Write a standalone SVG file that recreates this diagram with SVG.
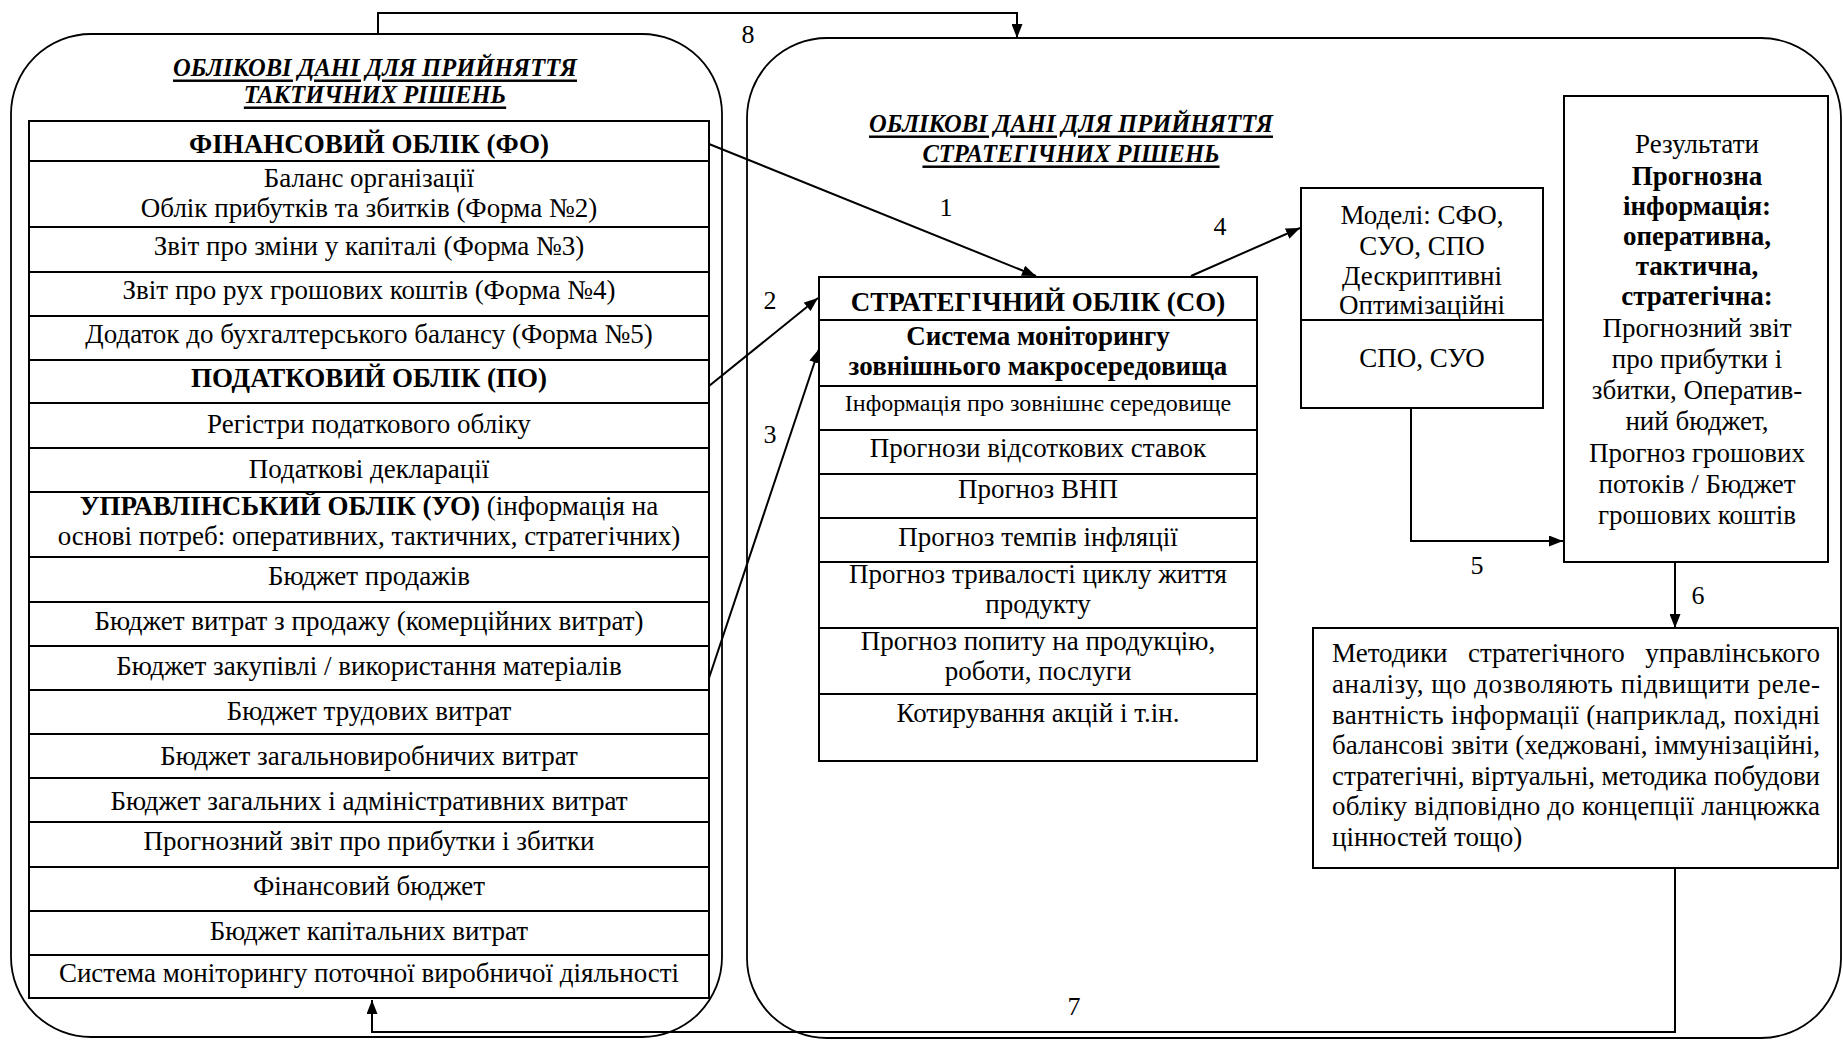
<svg xmlns="http://www.w3.org/2000/svg" width="1843" height="1040" viewBox="0 0 1843 1040">
<defs>
<marker id="ah" markerUnits="userSpaceOnUse" markerWidth="14" markerHeight="11" refX="14" refY="5.5" orient="auto">
<path d="M0,0 L14,5.5 L0,11 z" fill="#000"/>
</marker>
<style>
text{font-family:"Liberation Serif","Times New Roman",serif;fill:#000}
.c{text-anchor:middle}
.f{font-size:27px}
.fi{font-size:24px}
.b{font-weight:bold}
.ttl{font-size:24.5px;font-weight:bold;font-style:italic;text-decoration:underline;text-anchor:middle;dominant-baseline:central}
.lbl{font-size:26px;text-anchor:middle}
.frame{fill:none;stroke:#000;stroke-width:1.8}
.box{fill:#fff;stroke:#000;stroke-width:2}
.ln{stroke:#000;stroke-width:2}
.con{fill:none;stroke:#000;stroke-width:2}
</style>
</defs>
<rect width="1843" height="1040" fill="#fff"/>

<g id="tactical-frame">
<rect class="frame" x="11" y="34" width="711" height="1003" rx="80" ry="80"/>
<text class="ttl" x="375" y="67">ОБЛІКОВІ ДАНІ ДЛЯ ПРИЙНЯТТЯ</text>
<text class="ttl" x="375" y="94">ТАКТИЧНИХ РІШЕНЬ</text>
</g>

<g id="strategic-frame">
<rect class="frame" x="747" y="38" width="1094" height="1000" rx="80" ry="80"/>
<text class="ttl" x="1071" y="123">ОБЛІКОВІ ДАНІ ДЛЯ ПРИЙНЯТТЯ</text>
<text class="ttl" x="1071" y="153">СТРАТЕГІЧНИХ РІШЕНЬ</text>
</g>

<g id="tactical-table">
<rect class="box" x="29" y="121" width="680" height="877"/>
<line class="ln" x1="29" y1="161" x2="709" y2="161"/>
<line class="ln" x1="29" y1="227" x2="709" y2="227"/>
<line class="ln" x1="29" y1="272" x2="709" y2="272"/>
<line class="ln" x1="29" y1="316" x2="709" y2="316"/>
<line class="ln" x1="29" y1="360" x2="709" y2="360"/>
<line class="ln" x1="29" y1="403" x2="709" y2="403"/>
<line class="ln" x1="29" y1="448" x2="709" y2="448"/>
<line class="ln" x1="29" y1="492" x2="709" y2="492"/>
<line class="ln" x1="29" y1="557" x2="709" y2="557"/>
<line class="ln" x1="29" y1="602" x2="709" y2="602"/>
<line class="ln" x1="29" y1="646" x2="709" y2="646"/>
<line class="ln" x1="29" y1="690" x2="709" y2="690"/>
<line class="ln" x1="29" y1="734" x2="709" y2="734"/>
<line class="ln" x1="29" y1="778" x2="709" y2="778"/>
<line class="ln" x1="29" y1="822" x2="709" y2="822"/>
<line class="ln" x1="29" y1="867" x2="709" y2="867"/>
<line class="ln" x1="29" y1="911" x2="709" y2="911"/>
<line class="ln" x1="29" y1="955" x2="709" y2="955"/>
<text class="c f b" x="369" y="153">ФІНАНСОВИЙ ОБЛІК (ФО)</text>
<text class="c f" x="369" y="187">Баланс організації</text>
<text class="c f" x="369" y="217">Облік прибутків та збитків (Форма №2)</text>
<text class="c f" x="369" y="255">Звіт про зміни у капіталі (Форма №3)</text>
<text class="c f" x="369" y="299">Звіт про рух грошових коштів (Форма №4)</text>
<text class="c f" x="369" y="343">Додаток до бухгалтерського балансу (Форма №5)</text>
<text class="c f b" x="369" y="387">ПОДАТКОВИЙ ОБЛІК (ПО)</text>
<text class="c f" x="369" y="433">Регістри податкового обліку</text>
<text class="c f" x="369" y="478">Податкові декларації</text>
<text class="c f" x="369" y="515"><tspan class="b">УПРАВЛІНСЬКИЙ ОБЛІК (УО)</tspan> (інформація на</text>
<text class="c f" x="369" y="545">основі потреб: оперативних, тактичних, стратегічних)</text>
<text class="c f" x="369" y="585">Бюджет продажів</text>
<text class="c f" x="369" y="630">Бюджет витрат з продажу (комерційних витрат)</text>
<text class="c f" x="369" y="675">Бюджет закупівлі / використання матеріалів</text>
<text class="c f" x="369" y="720">Бюджет трудових витрат</text>
<text class="c f" x="369" y="765">Бюджет загальновиробничих витрат</text>
<text class="c f" x="369" y="810">Бюджет загальних і адміністративних витрат</text>
<text class="c f" x="369" y="850">Прогнозний звіт про прибутки і збитки</text>
<text class="c f" x="369" y="895">Фінансовий бюджет</text>
<text class="c f" x="369" y="940">Бюджет капітальних витрат</text>
<text class="c f" x="369" y="982">Система моніторингу поточної виробничої діяльності</text>
</g>

<g id="strategic-table">
<rect class="box" x="819" y="277" width="438" height="484"/>
<line class="ln" x1="819" y1="320" x2="1257" y2="320"/>
<line class="ln" x1="819" y1="386" x2="1257" y2="386"/>
<line class="ln" x1="819" y1="430" x2="1257" y2="430"/>
<line class="ln" x1="819" y1="474" x2="1257" y2="474"/>
<line class="ln" x1="819" y1="518" x2="1257" y2="518"/>
<line class="ln" x1="819" y1="562" x2="1257" y2="562"/>
<line class="ln" x1="819" y1="628" x2="1257" y2="628"/>
<line class="ln" x1="819" y1="694" x2="1257" y2="694"/>
<text class="c f b" x="1038" y="311">СТРАТЕГІЧНИЙ ОБЛІК (СО)</text>
<text class="c f b" x="1038" y="345">Система моніторингу</text>
<text class="c f b" x="1038" y="375">зовнішнього макросередовища</text>
<text class="c fi" x="1038" y="411">Інформація про зовнішнє середовище</text>
<text class="c f" x="1038" y="457">Прогнози відсоткових ставок</text>
<text class="c f" x="1038" y="498">Прогноз ВНП</text>
<text class="c f" x="1038" y="546">Прогноз темпів інфляції</text>
<text class="c f" x="1038" y="583">Прогноз тривалості циклу життя</text>
<text class="c f" x="1038" y="613">продукту</text>
<text class="c f" x="1038" y="650">Прогноз попиту на продукцію,</text>
<text class="c f" x="1038" y="680">роботи, послуги</text>
<text class="c f" x="1038" y="722">Котирування акцій і т.ін.</text>
</g>

<g id="models">
<rect class="box" x="1301" y="188" width="242" height="220"/>
<line class="ln" x1="1301" y1="320" x2="1543" y2="320"/>
<text class="c f" x="1422" y="224">Моделі: СФО,</text>
<text class="c f" x="1422" y="255">СУО, СПО</text>
<text class="c f" x="1422" y="285">Дескриптивні</text>
<text class="c f" x="1422" y="314">Оптимізаційні</text>
<text class="c f" x="1422" y="367">СПО, СУО</text>
</g>

<g id="results">
<rect class="box" x="1564" y="96" width="264" height="466"/>
<text class="c f" x="1697" y="153">Результати</text>
<text class="c f b" x="1697" y="185">Прогнозна</text>
<text class="c f b" x="1697" y="215">інформація:</text>
<text class="c f b" x="1697" y="245">оперативна,</text>
<text class="c f b" x="1697" y="275">тактична,</text>
<text class="c f b" x="1697" y="305">стратегічна:</text>
<text class="c f" x="1697" y="337">Прогнозний звіт</text>
<text class="c f" x="1697" y="368">про прибутки і</text>
<text class="c f" x="1697" y="399">збитки, Оператив-</text>
<text class="c f" x="1697" y="430">ний бюджет,</text>
<text class="c f" x="1697" y="462">Прогноз грошових</text>
<text class="c f" x="1697" y="493">потоків / Бюджет</text>
<text class="c f" x="1697" y="524">грошових коштів</text>
</g>

<g id="methods">
<rect class="box" x="1313" y="628" width="525" height="240"/>
<text class="f" x="1332" y="662">Методики</text>
<text class="f" x="1468" y="662">стратегічного</text>
<text class="f" x="1820" y="662" text-anchor="end">управлінського</text>
<text class="f" x="1332" y="693" textLength="488" lengthAdjust="spacing">аналізу, що дозволяють підвищити реле-</text>
<text class="f" x="1332" y="724" textLength="488" lengthAdjust="spacing">вантність інформації (наприклад, похідні</text>
<text class="f" x="1332" y="754" textLength="488" lengthAdjust="spacing">балансові звіти (хеджовані, іммунізаційні,</text>
<text class="f" x="1332" y="785" textLength="488" lengthAdjust="spacing">стратегічні, віртуальні, методика побудови</text>
<text class="f" x="1332" y="815" textLength="488" lengthAdjust="spacing">обліку відповідно до концепції ланцюжка</text>
<text class="f" x="1332" y="846">цінностей тощо)</text>
</g>

<g id="connectors">
<path class="con" marker-end="url(#ah)" d="M709,144 L1036,276"/>
<path class="con" marker-end="url(#ah)" d="M709,386 L818,298"/>
<path class="con" marker-end="url(#ah)" d="M709,678 L819,349"/>
<path class="con" marker-end="url(#ah)" d="M1191,276 L1300,228"/>
<path class="con" marker-end="url(#ah)" d="M1411,408 L1411,541 L1563,541"/>
<path class="con" marker-end="url(#ah)" d="M1675,562 L1675,628"/>
<path class="con" marker-end="url(#ah)" d="M1675,868 L1675,1032 L372,1032 L372,1000"/>
<path class="con" marker-end="url(#ah)" d="M378,34 L378,13 L1017,13 L1017,38"/>
<text class="lbl" x="946" y="216">1</text>
<text class="lbl" x="770" y="309">2</text>
<text class="lbl" x="770" y="443">3</text>
<text class="lbl" x="1220" y="235">4</text>
<text class="lbl" x="1477" y="574">5</text>
<text class="lbl" x="1698" y="604">6</text>
<text class="lbl" x="1074" y="1015">7</text>
<text class="lbl" x="748" y="43">8</text>
</g>
</svg>
